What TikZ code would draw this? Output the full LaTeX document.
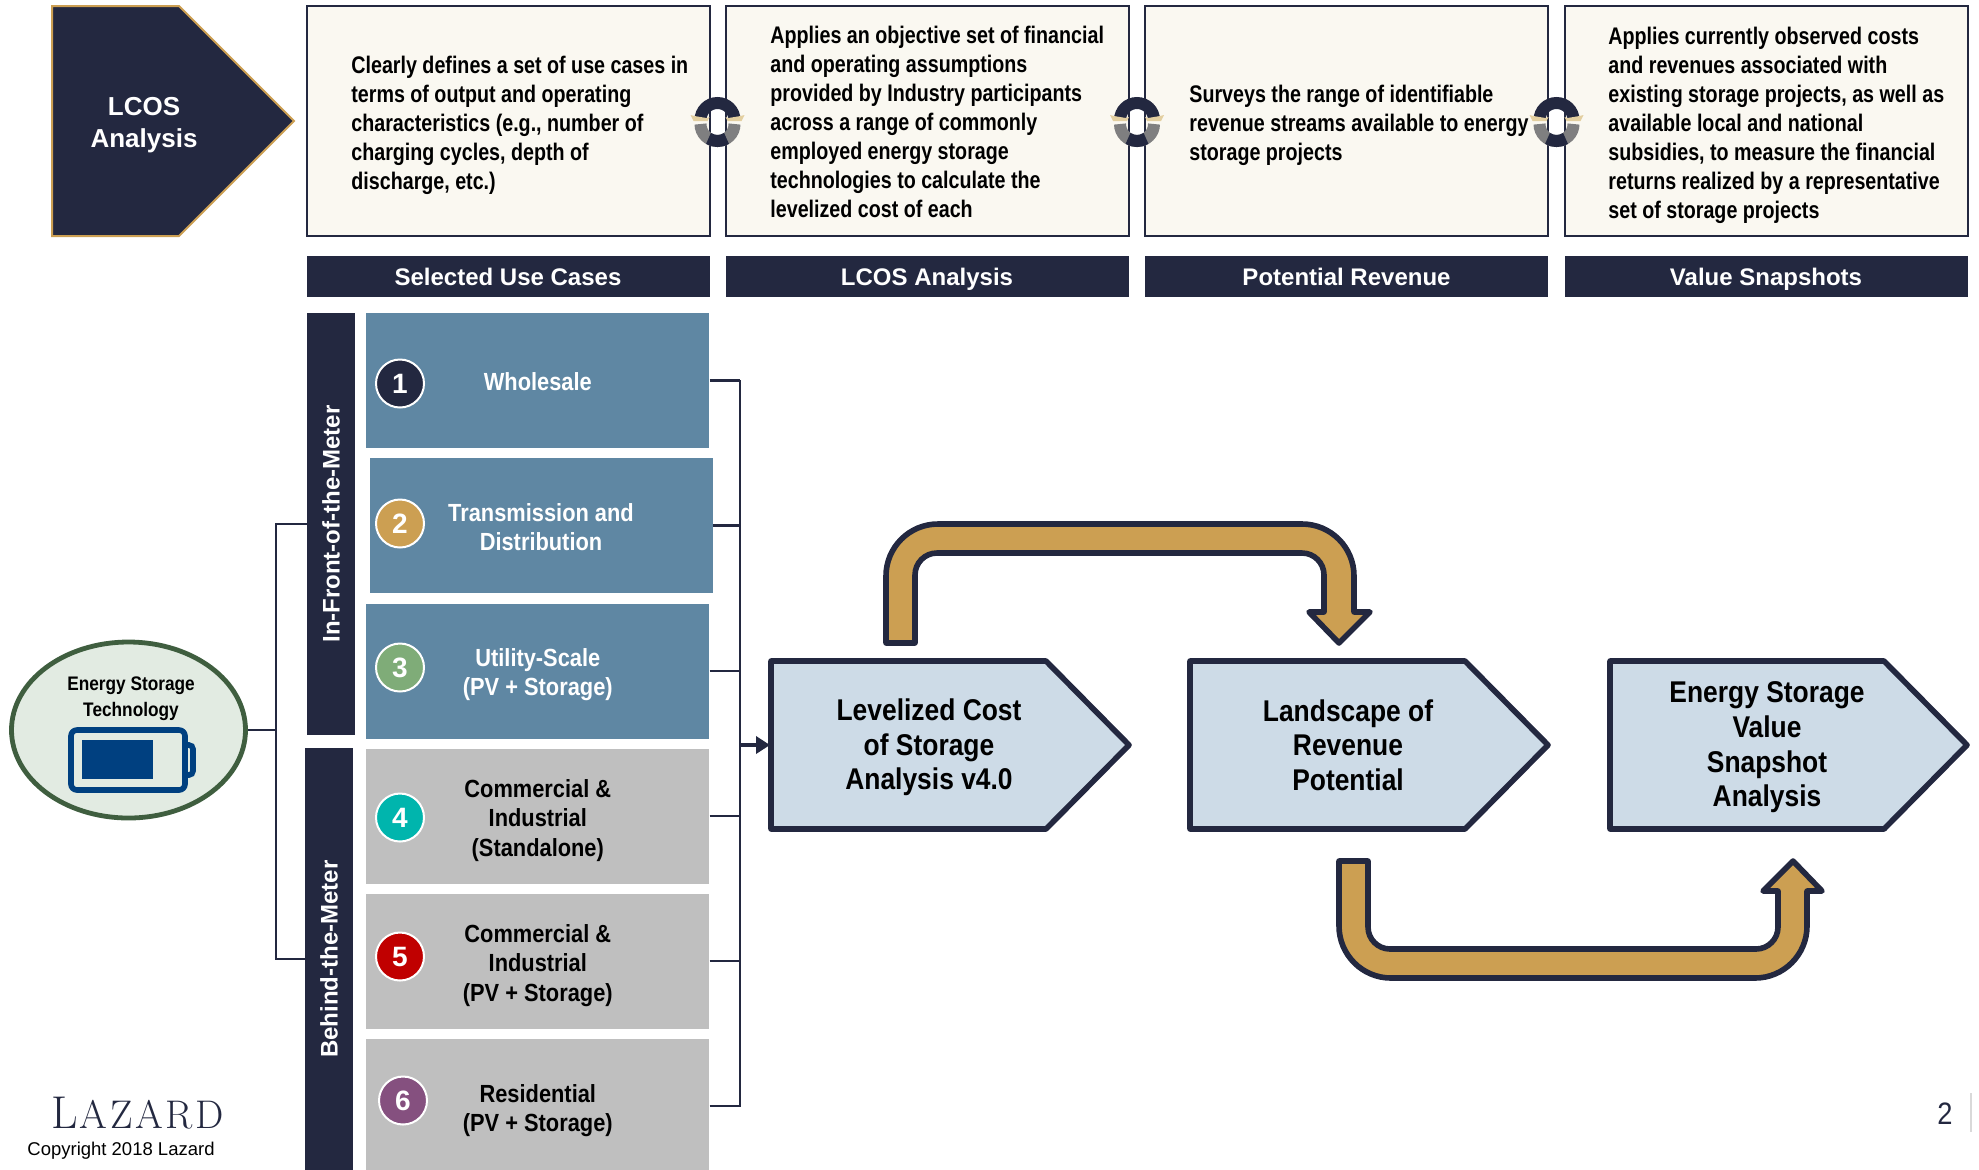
\documentclass[tikz,border=0pt]{standalone}
\usepackage{fontspec}
\usepackage{graphicx}
\usetikzlibrary{arrows.meta,shapes.geometric}
\newfontfamily\plainfont{Liberation Sans}
\newfontfamily\narrowfont[FakeStretch=0.88]{Liberation Sans}
\newfontfamily\tightfont[FakeStretch=0.82]{Liberation Sans}
\definecolor{lazNavy}{HTML}{232840}
\definecolor{lazGold}{HTML}{CC9F52}
\definecolor{lazCream}{HTML}{FAF8F1}
\definecolor{lazSky}{HTML}{CDDBE7}
\definecolor{caseBlue}{HTML}{5F87A3}
\definecolor{caseGray}{HTML}{BFBFBF}
\definecolor{techGreen}{HTML}{E2EBE2}
\definecolor{techEdge}{HTML}{3F5E3F}
\definecolor{battBlue}{HTML}{004080}
\definecolor{wingTan}{HTML}{E3CFA0}
\definecolor{ringGray}{HTML}{7F7F80}
\definecolor{dotGreen}{HTML}{7FAC78}
\definecolor{dotTeal}{HTML}{00B5AD}
\definecolor{dotRed}{HTML}{C00000}
\definecolor{dotPurple}{HTML}{85507F}
\tikzset{
  descbox/.style={draw=lazNavy,fill=lazCream,line width=1pt,minimum width=201.5pt,minimum height=115pt,inner sep=0pt},
  desctext/.style={anchor=west,align=left,inner sep=0pt,font=\tightfont\bfseries\fontsize{12}{14.5}\selectfont},
  headbar/.style={fill=lazNavy,text=white,minimum width=201.5pt,minimum height=20.5pt,inner sep=0pt,text height=8.6pt,text depth=0pt,font=\plainfont\bfseries\fontsize{12}{14}\selectfont},
  sidebar/.style={fill=lazNavy,text=white,minimum width=24pt,inner sep=0pt,font=\plainfont\bfseries\fontsize{12}{14}\selectfont},
  casebox/.style={minimum width=171.5pt,minimum height=67.5pt,inner sep=0pt},
  casetext/.style={inner sep=0pt,align=center,font=\narrowfont\bfseries\fontsize{12.4}{14.8}\selectfont},
  numdot/.style={circle,draw=white,line width=1pt,minimum size=24pt,inner sep=0pt,text=white,font=\plainfont\bfseries\fontsize{14}{14}\selectfont},
  procshape/.style={draw=lazNavy,fill=lazSky,line width=2.8pt,line join=round},
  proctext/.style={align=center,inner sep=0pt,font=\narrowfont\bfseries\fontsize{15}{17.3}\selectfont},
  bendarrow/.style={draw=lazNavy,fill=lazGold,line width=2.8pt,line join=round},
  treeline/.style={draw=lazNavy,line width=1.3pt},
  wingpart/.style={fill=wingTan,draw=none},
}
\begin{document}
\begin{tikzpicture}[x=0.5pt,y=-0.5pt]
\useasboundingbox (0,0) rectangle (1979,1169);
% lead-in
\draw[fill=lazNavy,draw=lazGold,line width=1pt] (52,6) -- (179,6) -- (294,121) -- (179,236) -- (52,236) -- cycle;
\node[align=center,text=white,inner sep=0pt,font=\plainfont\bfseries\fontsize{13}{16}\selectfont] (lcosLead) at (144,125.5) {LCOS\\Analysis};
% description boxes
\node[descbox] (boxA) at (508,121) {};
\node[descbox] (boxB) at (927,121) {};
\node[descbox] (boxC) at (1346.5,121) {};
\node[descbox] (boxD) at (1766,121) {};
\node[desctext] (textA) at (351,125) {Clearly defines a set of use cases in\\terms of output and operating\\characteristics (e.g., number of\\charging cycles, depth of\\discharge, etc.)};
\node[desctext] (textB) at (770,122) {Applies an objective set of financial\\and operating assumptions\\provided by Industry participants\\across a range of commonly\\employed energy storage\\technologies to calculate the\\levelized cost of each};
\node[desctext] (textC) at (1189,125) {Surveys the range of identifiable\\revenue streams available to energy\\storage projects};
\node[desctext] (textD) at (1608,125) {Applies currently observed costs\\and revenues associated with\\existing storage projects, as well as\\available local and national\\subsidies, to measure the financial\\returns realized by a representative\\set of storage projects};
% rings between the boxes
\foreach \cx in {717.5,1137,1556.5} {
  \draw[ringGray,line width=6pt] (\cx-17,124) arc[start angle=180,end angle=360,radius=8.5pt];
  \draw[lazNavy,line width=6pt] ([shift={(238:8.5pt)}]\cx,124) arc[start angle=238,end angle=302,radius=8.5pt];
  \draw[lazNavy,line width=6pt] (\cx-17,120) arc[start angle=180,end angle=0,radius=8.5pt];
  \fill[wingpart] (\cx-27,115) -- (\cx-23,116) -- (\cx-11,118) -- (\cx-8,117) -- (\cx-10,121) -- (\cx-24,121) -- cycle;
  \fill[wingpart] (\cx+27,115) -- (\cx+23,116) -- (\cx+11,118) -- (\cx+8,117) -- (\cx+10,121) -- (\cx+24,121) -- cycle;
}
% column heads
\node[headbar] (headA) at (508,276.5) {Selected Use Cases};
\node[headbar] (headB) at (927,276.5) {LCOS Analysis};
\node[headbar] (headC) at (1346.5,276.5) {Potential Revenue};
\node[headbar] (headD) at (1766,276.5) {Value Snapshots};
% use cases
\node[sidebar,minimum height=211pt] (frontBar) at (331,524) {\rotatebox{90}{In-Front-of-the-Meter}};
\node[sidebar,minimum height=211pt] (behindBar) at (329,959) {\rotatebox{90}{Behind-the-Meter}};
\node[casebox,fill=caseBlue] (caseA) at (537.8,380.5) {};
\node[casebox,fill=caseBlue] (caseB) at (541,525.5) {};
\node[casebox,fill=caseBlue] (caseC) at (537.8,671) {};
\node[casebox,fill=caseGray] (caseD) at (537.8,816) {};
\node[casebox,fill=caseGray] (caseE) at (537.8,961) {};
\node[casebox,fill=caseGray] (caseF) at (537.8,1106) {};
\node[casetext,text=white] (labelA) at (537.8,381.5) {Wholesale};
\node[casetext,text=white] (labelB) at (541,527) {Transmission and\\Distribution};
\node[casetext,text=white] (labelC) at (537.8,674.5) {Utility-Scale\\(PV + Storage)};
\node[casetext] (labelD) at (537.8,820.5) {Commercial \&\\Industrial\\(Standalone)};
\node[casetext] (labelE) at (537.8,965.5) {Commercial \&\\Industrial\\(PV + Storage)};
\node[casetext] (labelF) at (537.8,1110.5) {Residential\\(PV + Storage)};
\foreach \n/\x/\y/\c in {1/400/383.5/lazNavy,2/400/523.5/lazGold,3/400/667.5/dotGreen,4/400/817.5/dotTeal,5/400/956.5/dotRed,6/403/1100.5/dotPurple} {
  \node[numdot,fill=\c] (num\n) at (\x,\y) {\n};
}
% storage technology
\node[ellipse,draw=techEdge,fill=techGreen,line width=2.4pt,minimum width=117pt,minimum height=88pt,inner sep=0pt] (techOval) at (128.5,730) {};
\node[align=center,inner sep=0pt,font=\narrowfont\bfseries\fontsize{9.8}{13}\selectfont] (techText) at (131,699) {Energy Storage\\Technology};
\draw[battBlue,line width=2.8pt,rounded corners=3pt] (71,730) -- (185,730) -- (185,790) -- (71,790) -- cycle;
\draw[battBlue,line width=2.8pt,rounded corners=2pt] (186,745) -- (193,745) -- (193,775) -- (186,775);
\fill[battBlue] (82,740) rectangle (153,779);
% tree lines
\coordinate (split) at (276,730);
\coordinate (busTop) at (740,381);
\coordinate (busEnd) at (740,1106);
\coordinate (busMid) at (740,745);
\coordinate (costIn) at (770,745);
\draw[treeline] (techOval.east) -- (split);
\draw[treeline] (frontBar.west) -| (split) |- (behindBar.west);
\draw[treeline,line cap=rect] (busTop) -- (busEnd);
\foreach \c in {caseA,caseB,caseC,caseD,caseE,caseF} {
  \draw[treeline] (\c.east) -- (\c.east -| busTop);
}
\draw[treeline,line width=2pt,-{Triangle[length=7pt,width=8.5pt]}] (busMid) -- (costIn);
% process steps
\draw[procshape] (771,661) -- (1046,661) -- (1129,745) -- (1046,829) -- (771,829) -- cycle;
\draw[procshape] (1190,661) -- (1465,661) -- (1548,745) -- (1465,829) -- (1190,829) -- cycle;
\draw[procshape] (1610,661) -- (1884,661) -- (1967,745) -- (1884,829) -- (1610,829) -- cycle;
\node[proctext] (stepA) at (929,747.5) {Levelized Cost\\of Storage\\Analysis v4.0};
\node[proctext] (stepB) at (1348,745) {Landscape of\\Revenue\\Potential};
\node[proctext] (stepC) at (1767,747.5) {Energy Storage\\Value\\Snapshot\\Analysis};
% bent arrows
\draw[bendarrow] (886,643) [rounded corners=26pt] -- (886,524) -- (1354,524) [sharp corners] -- (1354,612) -- (1370,612) -- (1339,643) -- (1309,612) -- (1324,612) [rounded corners=11pt] -- (1324,553) -- (915,553) [sharp corners] -- (915,643) -- cycle;
\draw[bendarrow] (1339,861) [rounded corners=26pt] -- (1339,978) -- (1807,978) [sharp corners] -- (1807,891) -- (1822,891) -- (1793,861) -- (1763,891) -- (1778,891) [rounded corners=11pt] -- (1778,949) -- (1368,949) [sharp corners] -- (1368,861) -- cycle;
% footer
\node[anchor=base west,inner sep=0pt,text=lazNavy] (logo) at (51,1128) {\fontsize{23}{24}\selectfont L\kern1pt\fontsize{20}{24}\selectfont A\kern1.3pt Z\kern1.3pt A\kern1.3pt R\kern1.3pt D};
\node[inner sep=0pt,font=\plainfont\fontsize{9.25}{11}\selectfont] (copyright) at (121,1151) {Copyright 2018 Lazard};
\node[inner sep=0pt,text=lazNavy,font=\narrowfont\fontsize{15.5}{16}\selectfont] (pageNum) at (1945,1114) {2};
\draw[gray!30,line width=1pt] (1971,1093) -- (1971,1132);
\end{tikzpicture}
\end{document}
